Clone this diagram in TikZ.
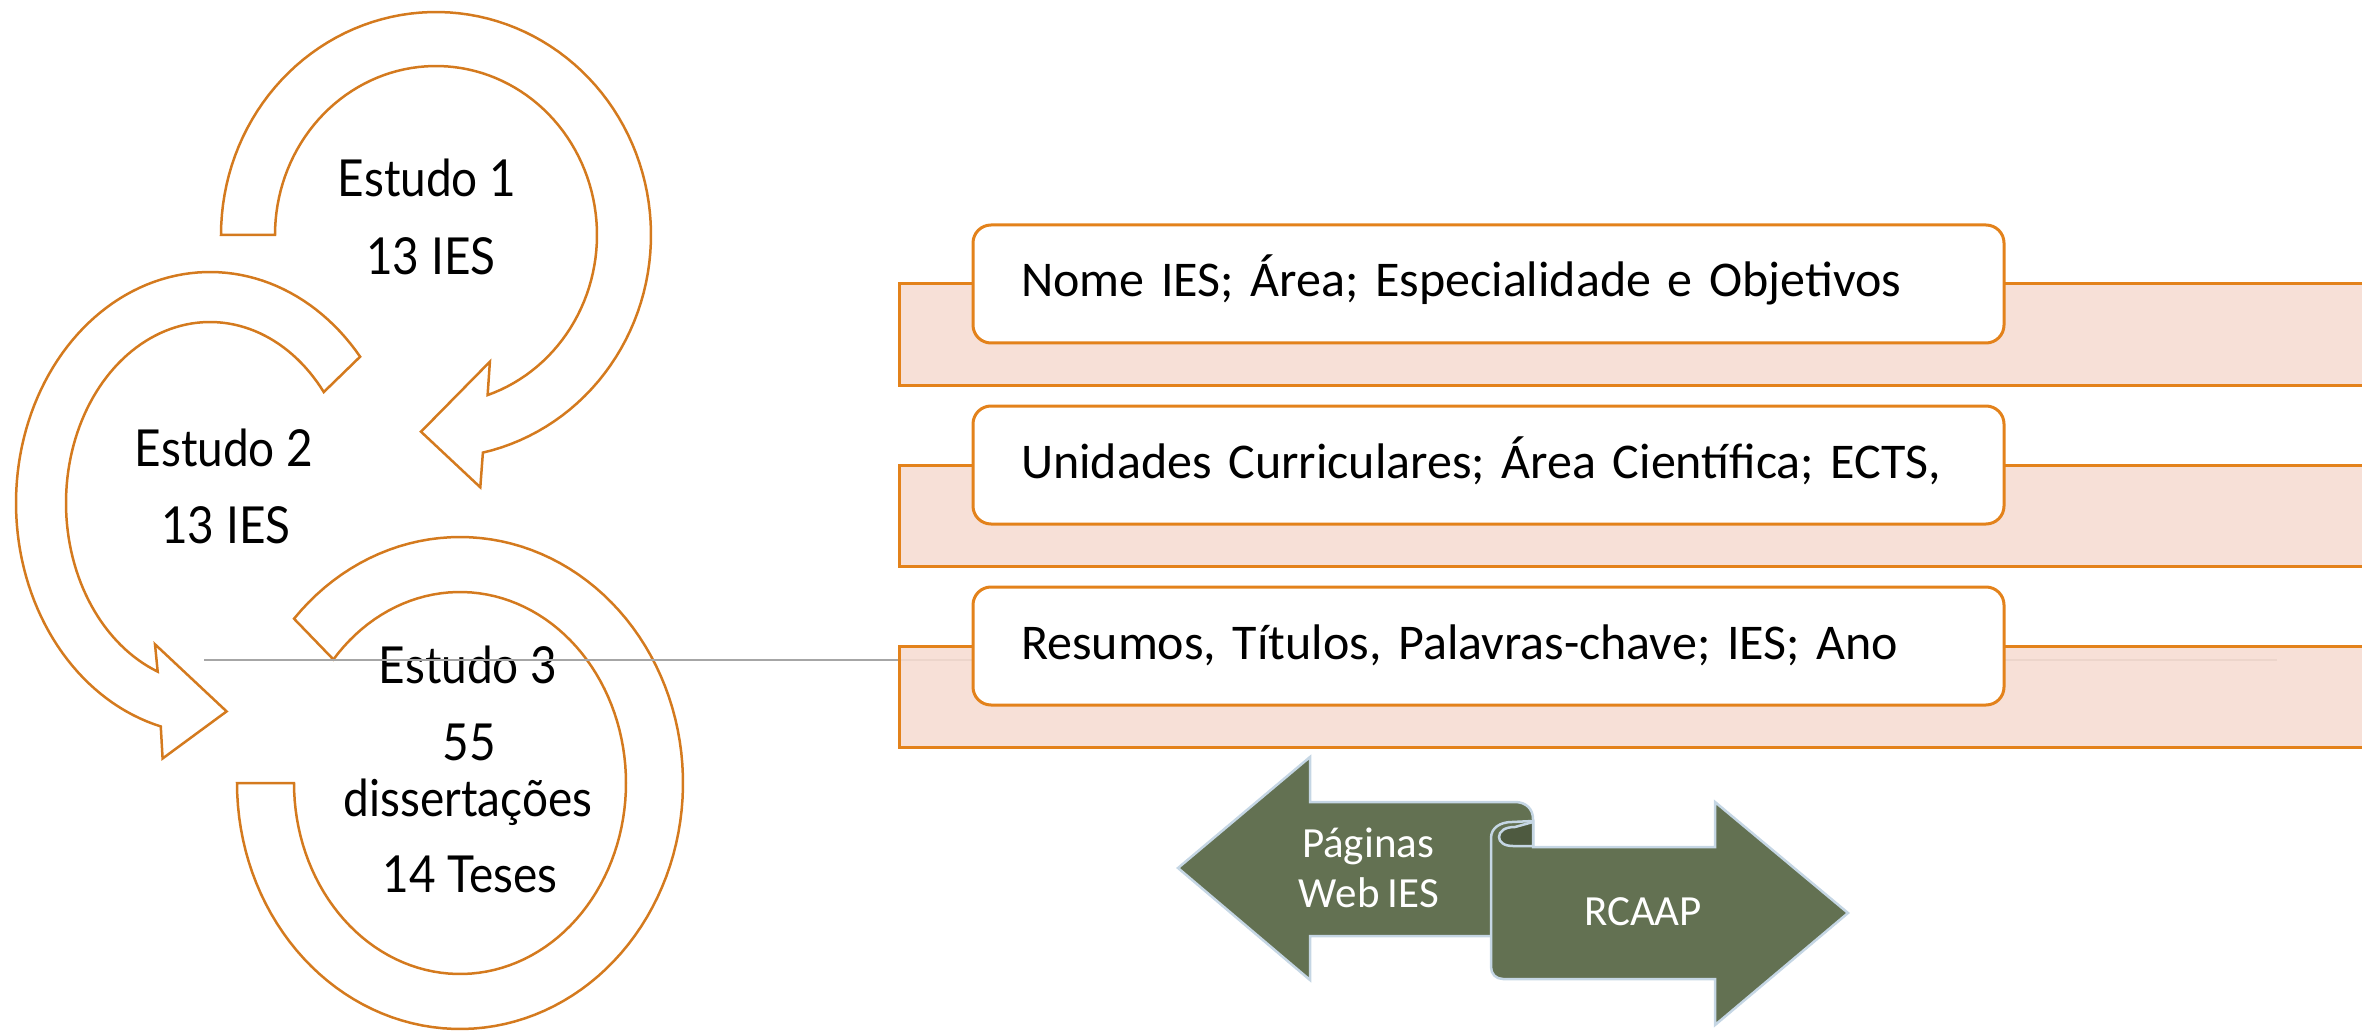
\documentclass[tikz,border=0pt]{standalone}
\usepackage{fontspec}
\setmainfont[WordSpace=0.85]{Carlito}
\newfontfamily\estfont[FakeStretch=0.9]{Lato}
\definecolor{arrowor}{RGB}{212,122,30}
\definecolor{rector}{RGB}{227,130,27}
\definecolor{pinkfill}{RGB}{246,220,209}
\definecolor{armygreen}{RGB}{99,113,82}
\definecolor{folddark}{RGB}{78,90,64}
\definecolor{paleblue}{RGB}{197,214,228}
\definecolor{linegray}{RGB}{166,166,166}
\frenchspacing
\begin{document}
\begin{tikzpicture}[x=1pt,y=-1pt,
  circarrow/.style={draw=arrowor, line width=2.5pt, line join=miter},
  estlabel/.style={anchor=base, inner sep=0pt, font=\estfont\fontsize{51}{60}\selectfont},
  pinkband/.style={draw=rector, fill=pinkfill, fill opacity=0.88, line width=3pt, rectangle, anchor=north west, inner sep=0pt, outer sep=0pt, minimum width=1471pt, minimum height=101pt},
  infobox/.style={draw=rector, fill=white, line width=3pt, rounded corners=18pt, rectangle, minimum height=118pt, text width=935pt, inner xsep=48pt, align=left, text height=36pt, text depth=10pt, font=\fontsize{50}{58}\selectfont, outer sep=0pt},
  greenarrow/.style={fill=armygreen, draw=paleblue, line width=2.5pt, line join=miter},
  whitelabel/.style={anchor=base, inner sep=0pt, text=white, font=\fontsize{43}{50}\selectfont},
  grayline/.style={draw=linegray, line width=2pt}
]
\path[use as bounding box] (0,0) rectangle (2362,1032);
\clip (0,0) rectangle (2362,1032);

% circular arrows
\draw[circarrow] plot[domain=180:437.4, samples=100, variable=\t] ({436+215*cos(\t)},{235+223*sin(\t)})
  -- (480.3,487.3) -- (421,431.7) -- (489.9,361.7)
  -- plot[domain=431.3:180, samples=100, variable=\t] ({436+161*cos(\t)},{235+169*sin(\t)}) -- cycle;
\draw[circarrow] plot[domain=-39.3:-255.3, samples=100, variable=\t] ({210+194*cos(\t)},{503+231*sin(\t)})
  -- (162.6,758.5) -- (226.6,711.4) -- (155,644.3)
  -- plot[domain=-248.7:-37.8, samples=100, variable=\t] ({210+144*cos(\t)},{503+181*sin(\t)}) -- cycle;
\draw[circarrow] plot[domain=-138.1:180, samples=120, variable=\t] ({460+223*cos(\t)},{783+246*sin(\t)})
  -- plot[domain=180:-139.7, samples=120, variable=\t] ({460+166*cos(\t)},{783+191*sin(\t)}) -- cycle;

\node[estlabel] (e1a) at (427,197) {Estudo 1};
\node[estlabel] (e1b) at (431,275) {13 IES};
\node[estlabel] (e2a) at (224,466) {Estudo 2};
\node[estlabel] (e2b) at (226,543) {13 IES};
\node[estlabel] (e3a) at (468,683) {Estudo 3};
\node[estlabel] (e3b) at (469,760) {55};
\node[estlabel] (e3c) at (468,816) {dissertações};
\node[estlabel] (e3d) at (470,892) {14 Teses};

% gray line
\coordinate (g1) at (204,660);
\coordinate (g2) at (2277,660);
\draw[grayline] (g1) -- (g2);

% pink bands
\node[pinkband] (p1) at (899,284) {};
\node[pinkband] (p2) at (899,465) {};
\node[pinkband] (p3) at (899,646) {};

% boxes
\node[infobox] (b1) at (1488.5,284) {Nome IES; Área; Especialidade e Objetivos};
\node[infobox] (b2) at (1488.5,465) {Unidades Curriculares; Área Científica; ECTS,};
\node[infobox] (b3) at (1488.5,646) {Resumos, Títulos, Palavras-chave; IES; Ano};

% green arrows
\draw[greenarrow] (1178,868) -- (1310,757) -- (1310,802) -- (1515,802) .. controls (1526,802) and (1533,809) .. (1533,819) -- (1533,936) -- (1310,936) -- (1310,980) -- cycle;
\draw[greenarrow] (1491,838) .. controls (1491,828) and (1500,822) .. (1512,822) -- (1533,821) -- (1533,847) -- (1715,847) -- (1715,802) -- (1848,913) -- (1715,1025) -- (1715,979) -- (1503,979) .. controls (1496,979) and (1491,974) .. (1491,967) -- cycle;
\draw[greenarrow, fill=folddark] (1533,822) -- (1533,846) -- (1513,846) .. controls (1504,846) and (1499,842) .. (1499,837) .. controls (1499,831) and (1505,827) .. (1515,827) -- cycle;

\node[whitelabel] (pg1) at (1368,857) {Páginas};
\node[whitelabel] (pg2) at (1369,907) {Web IES};
\node[whitelabel] (rc) at (1643,925) {RCAAP};
\end{tikzpicture}
\end{document}
